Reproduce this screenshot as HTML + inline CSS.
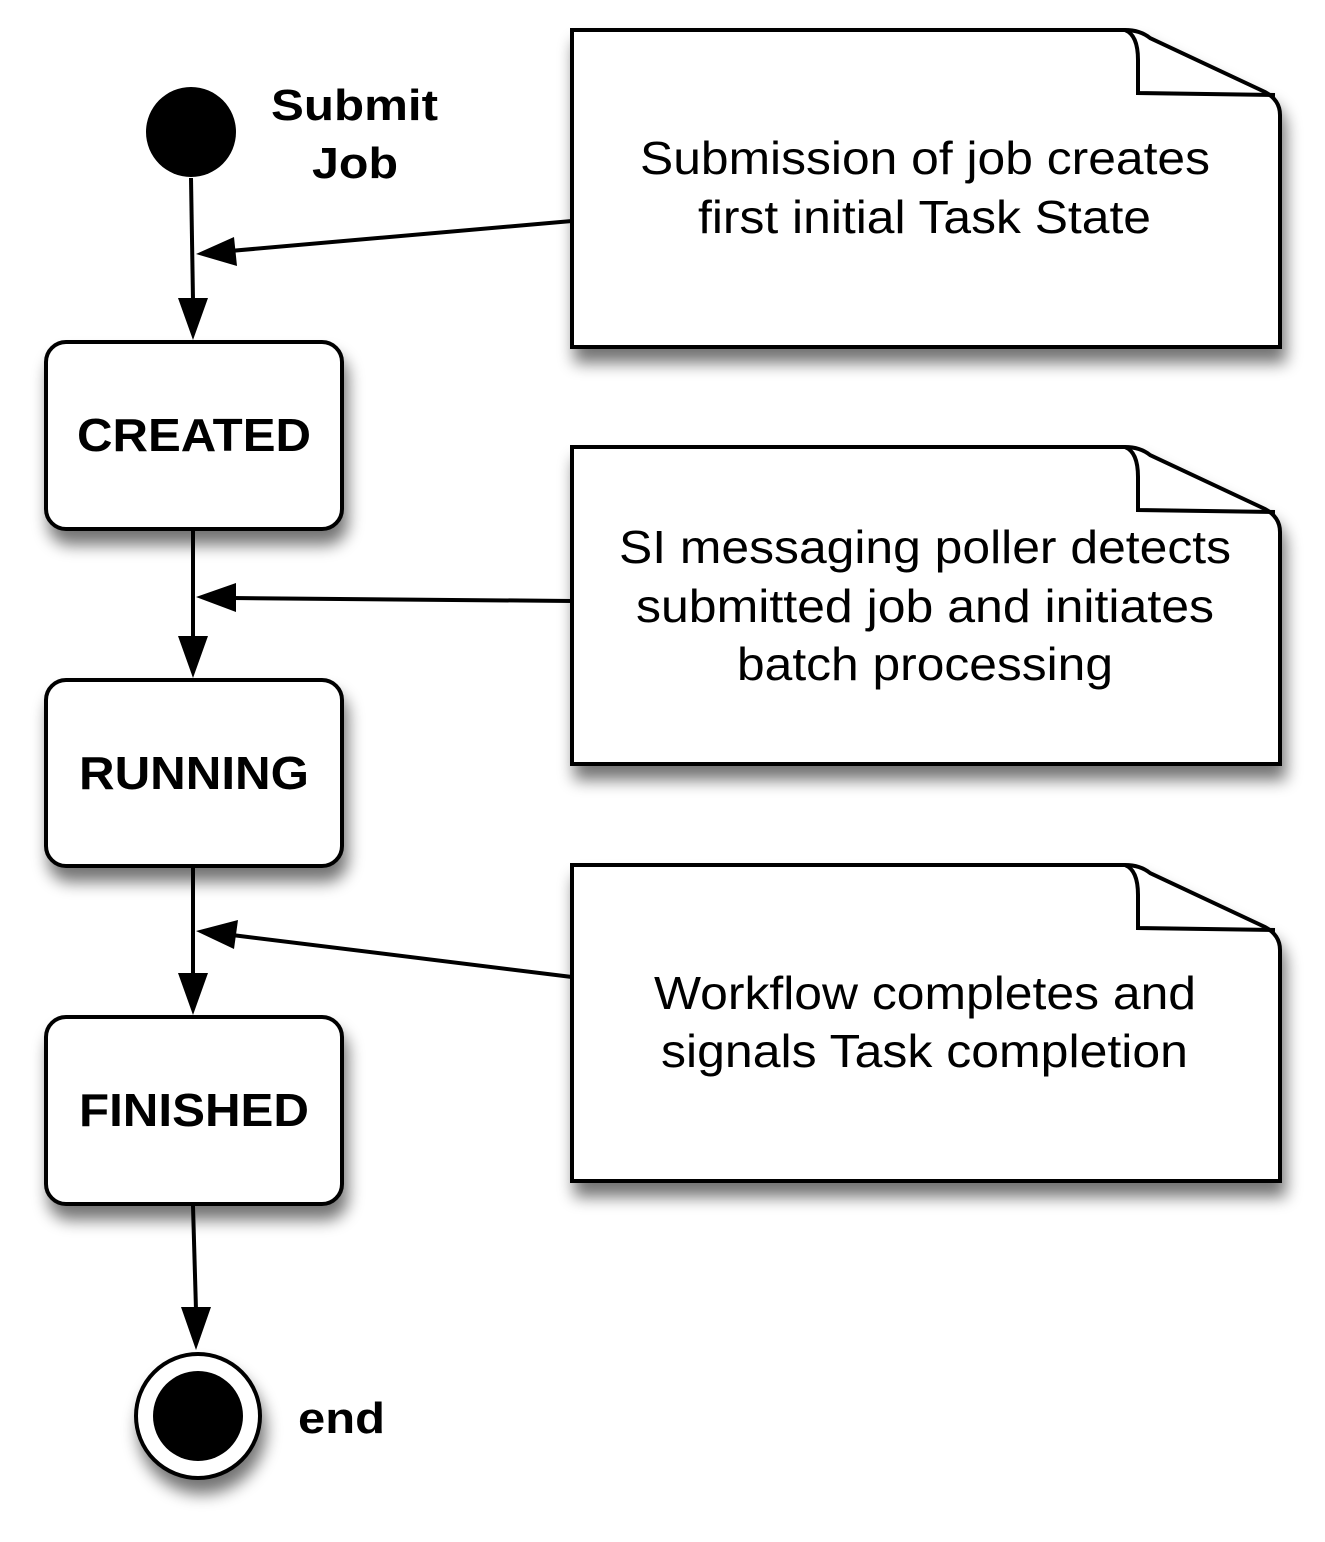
<!DOCTYPE html>
<html><head><style>body{margin:0;background:#fff}svg{display:block}</style></head><body>
<svg width="1325" height="1542" viewBox="0 0 1325 1542" xmlns="http://www.w3.org/2000/svg" font-family="Liberation Sans, sans-serif">
<defs>
<filter id="sh" x="-20%" y="-20%" width="150%" height="150%"><feGaussianBlur in="SourceAlpha" stdDeviation="8"/><feOffset dx="4" dy="14"/><feComponentTransfer><feFuncA type="linear" slope="0.55"/></feComponentTransfer><feMerge><feMergeNode/><feMergeNode in="SourceGraphic"/></feMerge></filter>
</defs>
<g stroke="#000" stroke-width="4" fill="#fff">
<g filter="url(#sh)">
<path d="M572,30 L1125,30 Q1140,30 1150,38 L1265,92 Q1280,100 1280,115 L1280,347 L572,347 Z"/>
<path d="M1125,30 Q1138,35 1138,60 L1138,93 L1275,95" fill="none"/>
</g>
<g filter="url(#sh)" transform="translate(0,417)">
<path d="M572,30 L1125,30 Q1140,30 1150,38 L1265,92 Q1280,100 1280,115 L1280,347 L572,347 Z"/>
<path d="M1125,30 Q1138,35 1138,60 L1138,93 L1275,95" fill="none"/>
</g>
<g filter="url(#sh)" transform="translate(0,835)">
<path d="M572,30 L1125,30 Q1140,30 1150,38 L1265,92 Q1280,100 1280,115 L1280,346 L572,346 Z"/>
<path d="M1125,30 Q1138,35 1138,60 L1138,93 L1275,95" fill="none"/>
</g>
<rect x="46" y="342" width="296" height="187" rx="20" filter="url(#sh)"/>
<rect x="46" y="680" width="296" height="186" rx="20" filter="url(#sh)"/>
<rect x="46" y="1017" width="296" height="187" rx="20" filter="url(#sh)"/>
<circle cx="191" cy="132" r="45" fill="#000" stroke="none"/>
<circle cx="198" cy="1416" r="62" filter="url(#sh)"/>
<circle cx="198" cy="1416" r="45" fill="#000" stroke="none"/>
</g>
<g fill="#000">
<line x1="191" y1="178" x2="193" y2="300" stroke="#000" stroke-width="4"/>
<path d="M178,298 L208,298 L193,340 Z"/>
<line x1="193" y1="531" x2="193" y2="640" stroke="#000" stroke-width="4"/>
<path d="M178,636 L208,636 L193,678 Z"/>
<line x1="193" y1="868" x2="193" y2="978" stroke="#000" stroke-width="4"/>
<path d="M178,973 L208,973 L193,1015 Z"/>
<line x1="193" y1="1206" x2="196" y2="1310" stroke="#000" stroke-width="4"/>
<path d="M181,1307 L211,1307 L196,1350 Z"/>
<line x1="572" y1="221" x2="230" y2="251" stroke="#000" stroke-width="4"/>
<path d="M196,254 L234,237 L237,266 Z"/>
<line x1="572" y1="601" x2="232" y2="598" stroke="#000" stroke-width="4"/>
<path d="M196,597 L236,583 L236,612 Z"/>
<line x1="572" y1="977" x2="232" y2="935" stroke="#000" stroke-width="4"/>
<path d="M196,931 L238,920 L234,949 Z"/>
</g>
<g font-weight="bold" font-size="46" lengthAdjust="spacingAndGlyphs">
<text x="271" y="120" font-size="44" textLength="167" lengthAdjust="spacingAndGlyphs">Submit</text>
<text x="312" y="178" font-size="44" textLength="86" lengthAdjust="spacingAndGlyphs">Job</text>
<text x="77" y="451" textLength="234" lengthAdjust="spacingAndGlyphs">CREATED</text>
<text x="79" y="789" textLength="230" lengthAdjust="spacingAndGlyphs">RUNNING</text>
<text x="79" y="1126" textLength="230" lengthAdjust="spacingAndGlyphs">FINISHED</text>
<text x="298" y="1433" font-size="44" textLength="87" lengthAdjust="spacingAndGlyphs">end</text>
</g>
<g font-size="46">
<text x="640" y="174" textLength="570" lengthAdjust="spacingAndGlyphs">Submission of job creates</text>
<text x="698" y="233" textLength="453" lengthAdjust="spacingAndGlyphs">first initial Task State</text>
<text x="619" y="563" textLength="612" lengthAdjust="spacingAndGlyphs">SI messaging poller detects</text>
<text x="636" y="622" textLength="578" lengthAdjust="spacingAndGlyphs">submitted job and initiates</text>
<text x="737" y="680" textLength="376" lengthAdjust="spacingAndGlyphs">batch processing</text>
<text x="654" y="1009" textLength="542" lengthAdjust="spacingAndGlyphs">Workflow completes and</text>
<text x="661" y="1067" textLength="527" lengthAdjust="spacingAndGlyphs">signals Task completion</text>
</g>
</svg>
</body></html>
